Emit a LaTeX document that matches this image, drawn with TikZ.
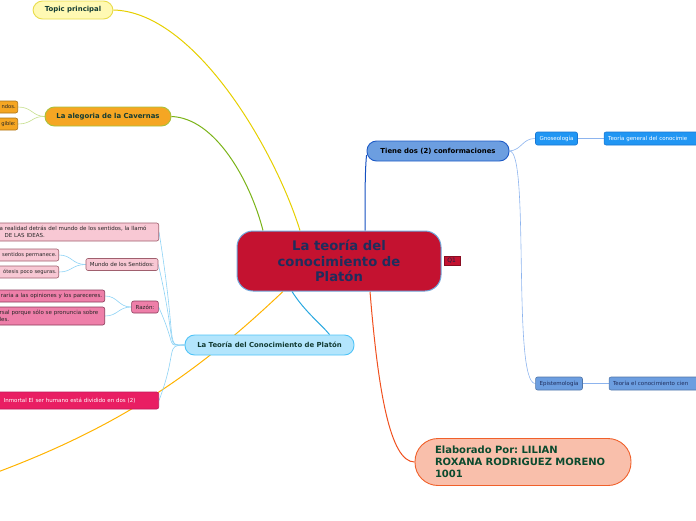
\documentclass[tikz,border=0pt]{standalone}
\usepackage{fontspec}
\setmainfont{DejaVu Sans}
\usetikzlibrary{positioning, backgrounds}
\frenchspacing
\definecolor{crimson}{HTML}{C41230}
\definecolor{centerline}{HTML}{6FA8DC}
\definecolor{navytext}{HTML}{1F2D5C}
\definecolor{darktext}{HTML}{123B33}
\definecolor{topicfill}{HTML}{FFF9B3}
\definecolor{topicline}{HTML}{E9DC4A}
\definecolor{yellowlink}{HTML}{E6CF00}
\definecolor{cavefill}{HTML}{F5A623}
\definecolor{caveline}{HTML}{A8C23A}
\definecolor{greenlink}{HTML}{7AB317}
\definecolor{cavesub}{HTML}{C5DE8A}
\definecolor{theoryfill}{HTML}{B3E5FC}
\definecolor{theoryline}{HTML}{4FC3F7}
\definecolor{skylink}{HTML}{29A8E0}
\definecolor{palelink}{HTML}{8ED3F5}
\definecolor{formfill}{HTML}{6C9EE0}
\definecolor{formline}{HTML}{1E5BC6}
\definecolor{bluelink}{HTML}{1550C0}
\definecolor{formsub}{HTML}{8DB4EE}
\definecolor{gnosfill}{HTML}{2196F3}
\definecolor{gnosline}{HTML}{1976D2}
\definecolor{authorfill}{HTML}{F9BFAB}
\definecolor{authorline}{HTML}{F0602A}
\definecolor{redlink}{HTML}{F0501E}
\definecolor{authortext}{HTML}{0B4A2E}
\definecolor{orangelink}{HTML}{FFB300}
\definecolor{lightpink}{HTML}{F8C8D4}
\definecolor{pinkline}{HTML}{A0606E}
\definecolor{rosefill}{HTML}{EE7FA9}
\definecolor{roseline}{HTML}{8B3A5A}
\definecolor{magenta}{HTML}{E91E63}
\definecolor{magline}{HTML}{C2185B}

\tikzset{
  mainbox/.style={draw=centerline, fill=crimson, line width=1pt, rounded corners=16pt,
    text=navytext, align=center, font=\fontsize{13.2}{15.7}\selectfont\bfseries},
  topicbox/.style={draw, line width=0.9pt, rounded corners=9.5pt, inner sep=0pt,
    text=darktext, font=\fontsize{6.9}{8}\selectfont\bfseries},
  leafbox/.style={draw, line width=0.6pt, rounded corners=2pt, inner xsep=4pt,
    inner ysep=0pt, minimum height=12pt, text=black!85, font=\fontsize{5.5}{6.8}\selectfont},
  edgeleaf/.style={inner xsep=2pt, font=\fontsize{5.2}{6.5}\selectfont},
  link/.style={line width=1pt},
  thinlink/.style={line width=0.6pt}
}

\begin{document}
\begin{tikzpicture}[x=1pt, y=-1pt]
  \useasboundingbox (0,0) rectangle (696,520);
  \clip (0,0) rectangle (696,520);

  % centre
  \node[mainbox, minimum width=204pt, minimum height=60pt] (central) at (339,261)
    {La teoría del\\conocimiento de\\Platón};
  \node[fill=crimson, draw=crimson!70!black, line width=0.4pt, inner sep=0pt,
        minimum width=16pt, minimum height=9pt, text=navytext!80!black,
        font=\fontsize{6}{6}\selectfont, right=2pt of central] (q1) {Q1};

  % main topics
  \node[topicbox, fill=topicfill, draw=topicline, minimum width=80pt, minimum height=18pt]
    (topic) at (73,10) {Topic principal};
  \node[topicbox, fill=cavefill, draw=caveline, minimum width=126pt, minimum height=19pt]
    (cave) at (108,116.5) {La alegoria de la Cavernas};
  \node[topicbox, fill=theoryfill, draw=theoryline, minimum width=169pt, minimum height=20pt]
    (theory) at (269.5,345) {La Teoría del Conocimiento de Platón};
  \node[topicbox, fill=formfill, draw=formline, text=black, minimum width=142pt, minimum height=20pt]
    (forms) at (438,151) {Tiene dos (2) conformaciones};
  \node[draw=authorline, fill=authorfill, line width=0.9pt, rounded corners=23pt,
        minimum height=47pt, inner xsep=20pt, text width=176pt, align=left, text=authortext,
        font=\fontsize{10}{12}\selectfont\bfseries]
    (author) at (523,462) {Elaborado Por: LILIAN\\ROXANA RODRIGUEZ MORENO\\1001};

  % caverna
  \node[leafbox, edgeleaf, fill=cavefill, draw=cavefill!70!black, anchor=east, text width=30pt, align=right]
    (cave1) at (18,107) {ndos.};
  \node[leafbox, edgeleaf, fill=cavefill, draw=cavefill!70!black, anchor=east, text width=30pt, align=right]
    (cave2) at (18,124) {gible:};

  % conocimiento
  \node[leafbox, fill=lightpink, draw=pinkline, anchor=east, text width=155pt, align=left,
        minimum height=18pt] (ideas) at (159,232)
    {a realidad detrás del mundo de los sentidos, la llamó\\\hspace*{5pt}DE LAS IDEAS.};
  \node[leafbox, fill=lightpink, draw=pinkline] (senses) at (122,264.5) {Mundo de los Sentidos:};
  \node[leafbox, edgeleaf, fill=lightpink, draw=pinkline, anchor=east, text width=70pt, align=right]
    (senses1) at (59,255) {sentidos permanece.};
  \node[leafbox, edgeleaf, fill=lightpink, draw=pinkline, anchor=east, text width=70pt, align=right]
    (senses2) at (59,272) {ótesis poco seguras.};
  \node[leafbox, fill=rosefill, draw=roseline] (reason) at (145,307) {Razón:};
  \node[leafbox, fill=rosefill, draw=roseline, anchor=east, inner xsep=2.5pt, text width=112pt, align=right]
    (reason1) at (105,296) {raria a las opiniones y los pareceres.};
  \node[leafbox, fill=rosefill, draw=roseline, anchor=east, text width=101pt, align=left,
        minimum height=18pt] (reason2) at (105,316)
    {rsal porque sólo se pronuncia sobre\\les.};
  \node[leafbox, fill=magenta, draw=magline, text=white, anchor=east, text width=155pt,
        align=left, minimum height=17pt] (soul) at (159,400.5)
    {\hspace*{4pt}Inmortal El ser humano está dividido en dos (2)};

  % conformaciones
  \node[leafbox, fill=gnosfill, draw=gnosline, text=white, minimum height=13pt]
    (gnos) at (556.5,138.5) {Gnoseología};
  \node[leafbox, fill=gnosfill, draw=gnosline, text=white, minimum height=13pt,
        text width=100pt, align=left, right=26pt of gnos] (gnos1) {Teoría general del conocimie};
  \node[leafbox, fill=formfill, draw=formfill!75!black, text=navytext, minimum height=13pt]
    (epis) at (559,383.5) {Epistemología};
  \node[leafbox, fill=formfill, draw=formfill!75!black, text=navytext, minimum height=13pt,
        text width=100pt, align=left, right=26pt of epis] (epis1) {Teoría el conocimiento cien};

  \coordinate (offleft) at (-30,482);

  \begin{scope}[on background layer]
    \draw[link, yellowlink] (topic.east) .. controls (195,12) and (275,150) .. ([xshift=-39pt]central.north);
    \draw[link, greenlink] (cave.east) .. controls (215,118) and (250,180) .. ([xshift=-76pt]central.north);
    \draw[link, orangelink] ([xshift=-56pt]central.south) .. controls (200,370) and (120,430) .. (offleft);
    \draw[link, skylink] ([xshift=-47pt]central.south) .. controls (305,312) and (322,325) .. ([xshift=60pt]theory.north);
    \draw[link, bluelink] ([xshift=26pt]central.north) .. controls (365,195) and (365,170) .. ([yshift=-4pt]forms.west);
    \draw[link, redlink] ([xshift=31pt]central.south) .. controls (378,390) and (390,462) .. (author.west);

    \draw[thinlink, cavesub] (cave.west) .. controls (32,116) and (32,107) .. (cave1.east);
    \draw[thinlink, cavesub] (cave.west) .. controls (32,116) and (32,124) .. (cave2.east);

    \foreach \leaf in {ideas, senses, reason, soul}
      \draw[thinlink, palelink] (theory.west) .. controls (165,345) and (178,350) .. (\leaf.east);
    \draw[thinlink, palelink] (senses.west) .. controls (72,264.5) and (72,255) .. (senses1.east);
    \draw[thinlink, palelink] (senses.west) .. controls (72,264.5) and (72,272) .. (senses2.east);
    \draw[thinlink, palelink] (reason.west) .. controls (118,307) and (118,296) .. (reason1.east);
    \draw[thinlink, palelink] (reason.west) .. controls (118,307) and (118,316) .. (reason2.east);

    \draw[thinlink, formsub] (forms.east) .. controls (522,150) and (522,138.5) .. (gnos.west);
    \draw[thinlink, formsub] (forms.east) .. controls (530,150) and (512,383.5) .. (epis.west);
    \draw[thinlink, formsub] (gnos.east) -- (gnos1.west);
    \draw[thinlink, formsub] (epis.east) -- (epis1.west);
  \end{scope}
\end{tikzpicture}
\end{document}
